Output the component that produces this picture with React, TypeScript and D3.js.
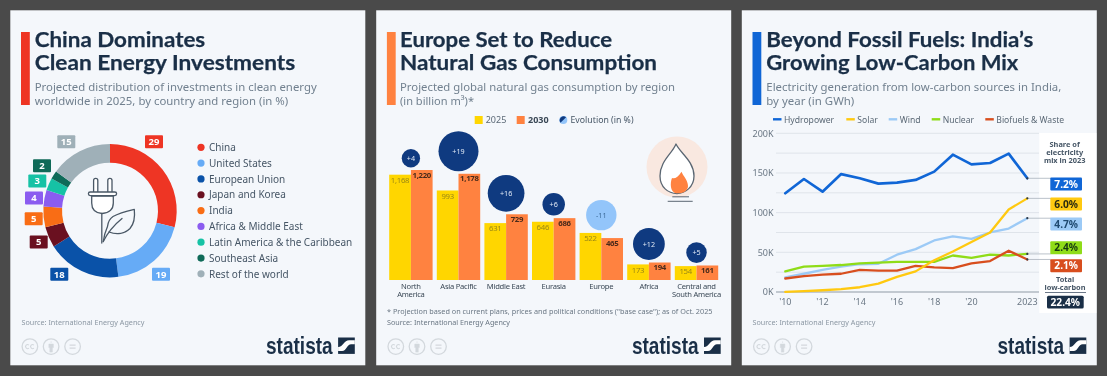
import React from 'react';
import * as d3 from 'd3';

// ---------- Data ----------
const shareNames = ['China', 'United States', 'European Union', 'Japan and Korea', 'India', 'Africa & Middle East', 'Latin America & the Caribbean', 'Southeast Asia', 'Rest of the world'];
const shareValues = [29, 19, 18, 5, 5, 4, 3, 2, 15];
const shareColors = ['#ee3524', '#66abf6', '#0a52a8', '#6a1020', '#f96d15', '#8b5cf0', '#16c2a5', '#0f6a58', '#9fb0b8'];
const shareLabelX = [44, 51, -50.7, -71.3, -76.3, -76, -72.7, -68, -43.7];
const shareLabelY = [-69, 63.6, 63.6, 31.3, 8, -12.7, -29.7, -45, -69];

const regions = [['North', 'America'], ['Asia Pacific'], ['Middle East'], ['Eurasia'], ['Europe'], ['Africa'], ['Central and', 'South America']];
const gas2025 = [1168, 993, 631, 646, 522, 173, 154];
const gas2030 = [1220, 1178, 729, 686, 465, 194, 161];
const gasEvolution = [4, 19, 16, 6, -11, 12, 5];

const years = [2010, 2011, 2012, 2013, 2014, 2015, 2016, 2017, 2018, 2019, 2020, 2021, 2022, 2023];
const hydro = [124.4, 142.4, 126.4, 148.6, 143.3, 136.6, 137.8, 141.2, 151.7, 173.1, 160.9, 162.6, 174.4, 143.3];
const solar = [0.1, 1.2, 2.2, 3.5, 6, 10.5, 19, 26, 40, 51, 63, 75, 104, 118];
const wind = [18.5, 23, 28, 32, 35, 35.5, 47, 54, 65, 70, 67, 75, 80, 93];
const nuclear = [26, 32, 33, 34, 36, 37, 38, 38, 38, 46, 43, 47, 46, 48];
const biofuels = [17, 20, 22, 23, 28, 27, 27, 33, 31, 30, 36, 39, 52, 41];
const lineNames = ['Hydropower', 'Solar', 'Wind', 'Nuclear', 'Biofuels & Waste'];
const lineColors = ['#1066d6', '#ffc910', '#9ccaf6', '#8fdc18', '#d84e1e'];
const lineShares = ['7.2%', '6.0%', '4.7%', '2.4%', '2.1%'];
const lineShareText = ['#ffffff', '#2a2a10', '#1f4a70', '#173a10', '#ffffff'];
const lineLabelY = [184, 204, 224, 247.7, 265.7];
const lineLegendX = [773, 846.3, 888.7, 931.7, 985.3];
const yTicks = [0, 50, 100, 150, 200];
const yGrid = [0, 25, 50, 75, 100, 125, 150, 175, 200];
const xTicks = ["'10", "'12", "'14", "'16", "'18", "'20", '2023'];
const xTickYears = [2010, 2012, 2014, 2016, 2018, 2020, 2023];

// ---------- Style ----------
const FONT = '"Noto Sans", sans-serif';
const NAVY = '#1a2f47';
const SUB = '#71808f';
const BODY = '#465666';

type TP = { x: number; y: number; s: number; w?: number; ls?: number; fill?: string; bold?: number; anchor?: string; children: any };
const T = ({ x, y, s, w, ls, fill = BODY, bold = 400, anchor = 'start', children }: TP) => (
  <text x={x} y={y} fontSize={s} fill={fill} fontWeight={bold} textAnchor={anchor as any} fontFamily={FONT}
    letterSpacing={ls}
    {...(w ? { textLength: w, lengthAdjust: 'spacingAndGlyphs' } : {})}>{children}</text>
);

const Frame = ({ x, accent, title, subtitle, titleW, subW, titleX }: any) => (
  <g>
    <rect x={x} y={10.3} width={355} height={355} fill="#f4f7fb" />
    <rect x={x + 10.7} y={32} width={8.8} height={73} fill={accent} />
    <text fontSize={21} fontWeight={700} fill={NAVY} fontFamily='Lato, "Noto Sans", sans-serif' stroke={NAVY} strokeWidth={0.25}>
      <tspan x={titleX} y={47} textLength={titleW[0]} lengthAdjust="spacingAndGlyphs">{title[0]}</tspan>
      <tspan x={titleX} y={70} textLength={titleW[1]} lengthAdjust="spacingAndGlyphs">{title[1]}</tspan>
    </text>
    <T x={titleX} y={91} s={11.5} w={subW[0]} fill={SUB}>{subtitle[0]}</T>
    <T x={titleX} y={105} s={11.5} w={subW[1]} fill={SUB}>{subtitle[1]}</T>
    {/* licence icons */}
    {[19.6, 40.8, 62.3].map((d, i) => (
      <g key={i} transform={`translate(${x + d},346.6)`} fill="none" stroke="#d3d8dd">
        <circle r={7.8} strokeWidth={1.3} />
        {i === 0 && <path d="M-1,-1.5 a2,2 0 1 0 0,3 M4,-1.5 a2,2 0 1 0 0,3" strokeWidth={1.1} />}
        {i === 1 && <path d="M0,-5.2 v1.5 M-2.2,-2.5 h4.4 v3.5 h-1 v4.5 h-2.4 v-4.5 h-1z" fill="#d3d8dd" strokeWidth={0.6} />}
        {i === 2 && <path d="M-3,-1.5 h6 M-3,1.5 h6" strokeWidth={1.4} />}
      </g>
    ))}
    {/* wordmark */}
    <text x={x + 255.7} y={354} fontSize={24.5} fontWeight={700} fill={NAVY} fontFamily={'"Liberation Sans Narrow", "Liberation Sans", sans-serif'}
      textLength={66.7} lengthAdjust="spacingAndGlyphs">statista</text>
    <g transform={`translate(${x + 327.8},337.5)`}>
      <rect width={16.7} height={16.4} fill={NAVY} />
      <path d="M0,9.5 C5,9.5 6,2.8 11,2.8 L16.7,2.8 L16.7,6.8 L13,6.8 C9,6.8 8.5,13.5 4,13.5 L0,13.5 Z" fill="#fff" />
    </g>
  </g>
);

// ---------- Panel 1 ----------
const Donut = () => {
  const pie = d3.pie<number>().sort(null).value(d => d)(shareValues);
  const arc = d3.arc<d3.PieArcDatum<number>>().innerRadius(48).outerRadius(66.7);
  return (
    <g>
      <g transform="translate(110,210.7)">
        {pie.map((p, i) => <path key={i} d={arc(p) as string} fill={shareColors[i]} />)}
        {shareValues.map((v, i) => (
          <g key={i} transform={`translate(${shareLabelX[i]},${shareLabelY[i]})`}>
            <rect x={-9} y={-6.5} width={18} height={13} rx={1} fill={shareColors[i]} />
            <T x={0} y={3.4} s={9.5} bold={700} anchor="middle" fill="#fff">{v}</T>
          </g>
        ))}
      </g>
      {/* plug and leaf */}
      <g fill="none" stroke="#4a5866" strokeWidth={1.3} strokeLinejoin="round" strokeLinecap="round">
        <path d="M93.6,192 V180.5 a2.1,2.1 0 0 1 4.2,0 V192 M107.8,192 V180.5 a2.1,2.1 0 0 1 4.2,0 V192" fill="#fff" />
        <path d="M91.7,196 V203 C91.7,210 96,213 102,213.5 C108,213 113.3,210 113.3,203 V196 Z" fill="#fff" />
        <rect x={88.4} y={192} width={28.2} height={3.6} rx={1.8} fill="#fff" />
        <path d="M101.8,213.5 V243" />
        <path d="M103.3,241.5 C104,236 105.5,231 107.5,226.5 C108,222 110,218.5 113,216.5 C119,213 127,211 134.3,209.3 C135,216 134,224 130,228.5 C125,233.5 117,235 109,232" />
        <path d="M103.3,241.5 C108,232 114,225 122,218.5" />
      </g>
      {shareNames.map((n, i) => (
        <g key={n}>
          <circle cx={201} cy={147.3 + i * 15.82} r={3.6} fill={shareColors[i]} />
          <T x={209} y={151 + i * 15.82} s={10}>{n}</T>
        </g>
      ))}
      <T x={21.5} y={325} s={7} w={123} fill="#8b97a3">Source: International Energy Agency</T>
    </g>
  );
};

// ---------- Panel 2 ----------
const Bars = () => {
  const x = d3.scaleLinear().domain([0, 7]).range([389.2, 389.2 + 47.6 * 7]);
  const y = d3.scaleLinear().domain([0, 1220]).range([280, 170]);
  const r = d3.scaleSqrt().domain([0, 19]).range([0, 20]);
  const bw = 21.7;
  return (
    <g>
      {regions.map((lines, i) => {
        const x0 = x(i);
        const top = Math.min(y(gas2025[i]), y(gas2030[i]));
        const cx = x0 + bw;
        const rad = r(Math.abs(gasEvolution[i]));
        const ev = gasEvolution[i];
        return (
          <g key={i}>
            <rect x={x0} y={y(gas2025[i])} width={bw} height={280 - y(gas2025[i])} fill="#ffd600" />
            <rect x={x0 + bw} y={y(gas2030[i])} width={bw} height={280 - y(gas2030[i])} fill="#ff8240" />
            <T x={x0 + bw / 2} y={y(gas2025[i]) + 8.3} s={7.8} ls={-0.3} anchor="middle" fill="#9c8a14">{gas2025[i].toLocaleString('en-US')}</T>
            <T x={x0 + bw * 1.5} y={y(gas2030[i]) + 7.5} s={7.8} ls={-0.3} bold={700} anchor="middle" fill="#4a2a1a">{gas2030[i].toLocaleString('en-US')}</T>
            <circle cx={cx} cy={top - 2.6 - rad} r={rad} fill={ev < 0 ? '#93c5fa' : '#0f3a80'} />
            <T x={cx} y={top - 2.6 - rad + 2.6} s={7.2} anchor="middle" fill={ev < 0 ? '#3d6a98' : '#dfe8f4'}>{ev > 0 ? `+${ev}` : `${ev}`}</T>
            {lines.map((l, k) => (
              <T key={k} x={cx} y={288.8 + k * 8.6} s={7.6} ls={-0.25} anchor="middle" fill="#3a4856">{l}</T>
            ))}
          </g>
        );
      })}
      {/* legend */}
      <rect x={474.7} y={116} width={8} height={8} fill="#ffd600" />
      <T x={485.7} y={123} s={9} fill="#5b6976">2025</T>
      <rect x={516.7} y={116} width={8} height={8} fill="#ff8240" />
      <T x={528} y={123} s={9} bold={700} fill="#3a4856">2030</T>
      <circle cx={563.3} cy={120} r={4} fill="#93c5fa" />
      <path d="M566.1,117.2 A4,4 0 0 1 560.5,122.8 Z" fill="#0f3a80" transform="rotate(180 563.3 120)" />
      <T x={570.5} y={123} s={8.6} w={63} fill="#465666">Evolution (in %)</T>
      {/* flame */}
      <circle cx={677} cy={167} r={30.5} fill="#f9e8e0" />
      <path d="M676,144 C680,153 694,161 694,176 C694,187 685,193.5 677,193.5 C668,193.5 660,187 660,176 C660,161 672,154 676,144 Z" fill="#fff" stroke="#5a6672" strokeWidth={1.3} strokeLinejoin="round" />
      <path d="M676,193.3 C670,192 670,183 672,178 C675,179 678,177 681.5,171.7 C683,176 688,180 688,186 C688,190 684,193 680,193.3 Z" fill="#ff8240" />
      <path d="M672.3,196.8 H689 M667.7,201.3 H692.7" stroke="#5a6672" strokeWidth={1} fill="none" />
      <T x={387} y={313.5} s={7.3} w={325.5} fill="#6a7784">* Projection based on current plans, prices and political conditions ("base case"); as of Oct. 2025</T>
      <T x={387} y={325} s={7.3} w={123} fill="#6a7784">Source: International Energy Agency</T>
    </g>
  );
};

// ---------- Panel 3 ----------
const Lines = () => {
  const x = d3.scaleLinear().domain([2010, 2023]).range([785.3, 1027.3]);
  const y = d3.scaleLinear().domain([0, 200]).range([292, 133.3]);
  const series = [hydro, solar, wind, nuclear, biofuels];
  const drawOrder = [0, 2, 3, 4, 1];
  const line = d3.line<number>().x((_, i) => x(years[i])).y(d => y(d));
  return (
    <g>
      {yGrid.map(t => (
        <line key={t} x1={776} x2={1039} y1={y(t)} y2={y(t)} stroke={t === 0 ? '#8f9aa5' : '#dfe4ea'} strokeWidth={1} />
      ))}
      {yTicks.map(t => <T key={t} x={773.5} y={y(t) + 3.2} s={9} anchor="end" fill="#6a7784">{`${t}K`}</T>)}
      {xTicks.map((t, i) => <T key={t} x={x(xTickYears[i])} y={305} s={9} anchor="middle" fill="#6a7784">{t}</T>)}
      {drawOrder.map(k => (
        <path key={k} d={line(series[k]) as string} fill="none" stroke={lineColors[k]} strokeWidth={k === 0 ? 2.7 : 2.3} strokeLinejoin="round" strokeLinecap="round" />
      ))}
      <rect x={1039.3} y={133} width={57} height={180} fill="#fff" />
      {series.map((s, k) => {
        const yy = y(s[s.length - 1]);
        return (
          <g key={k}>
            <line x1={x(2023)} x2={1051} y1={yy} y2={yy} stroke="#a9b3bc" strokeWidth={0.8} />
            <circle cx={x(2023)} cy={yy} r={1.1} fill="#2d3a48" />
            <rect x={1050.3} y={lineLabelY[k] - 6.5} width={31.7} height={13} rx={1} fill={lineColors[k]} />
            <T x={1066.2} y={lineLabelY[k] + 3.7} s={10.2} bold={700} anchor="middle" fill={lineShareText[k]}>{lineShares[k]}</T>
            <line x1={lineLegendX[k]} x2={lineLegendX[k] + 8.5} y1={119.3} y2={119.3} stroke={lineColors[k]} strokeWidth={2.4} />
            <T x={lineLegendX[k] + 11} y={122.6} s={8.6} fill="#5b6976">{lineNames[k]}</T>
          </g>
        );
      })}
      {['Share of', 'electricity', 'mix in 2023'].map((l, i) => (
        <T key={l} x={1064.7} y={147 + i * 8} s={7.4} bold={700} anchor="middle" fill="#465666">{l}</T>
      ))}
      {['Total', 'low-carbon'].map((l, i) => (
        <T key={l} x={1065} y={282 + i * 8} s={7.4} bold={700} anchor="middle" fill="#465666">{l}</T>
      ))}
      <line x1={1045} x2={1086} y1={292.5} y2={292.5} stroke="#46566a" strokeWidth={0.8} />
      <rect x={1047} y={295.7} width={36.7} height={12.7} rx={1.5} fill={NAVY} />
      <T x={1065.3} y={305.7} s={10.2} bold={700} anchor="middle" fill="#fff">22.4%</T>
      <T x={752.5} y={325} s={7} w={123} fill="#8b97a3">Source: International Energy Agency</T>
    </g>
  );
};

export default function App() {
  return (
    <svg width={1107} height={376} viewBox="0 0 1107 376" style={{ position: 'fixed', left: 0, top: 0, display: 'block', background: '#4a4a4a', filter: 'blur(0.4px)' }}>
      <Frame x={10.3} accent="#ee3524" titleX={34.7} title={['China Dominates', 'Clean Energy Investments']} titleW={[170.5, 260.5]}
        subtitle={['Projected distribution of investments in clean energy', 'worldwide in 2025, by country and region (in %)']} subW={[282, 253.5]} />
      <Frame x={376.2} accent="#ff8240" titleX={400} title={['Europe Set to Reduce', 'Natural Gas Consumption']} titleW={[212, 257]}
        subtitle={['Projected global natural gas consumption by region', '(in billion m³)*']} subW={[275, 74]} />
      <Frame x={741.8} accent="#1066d6" titleX={766.3} title={['Beyond Fossil Fuels: India’s', 'Growing Low-Carbon Mix']} titleW={[267, 252]}
        subtitle={['Electricity generation from low-carbon sources in India,', 'by year (in GWh)']} subW={[295, 88]} />
      <Donut />
      <Bars />
      <Lines />
    </svg>
  );
}
